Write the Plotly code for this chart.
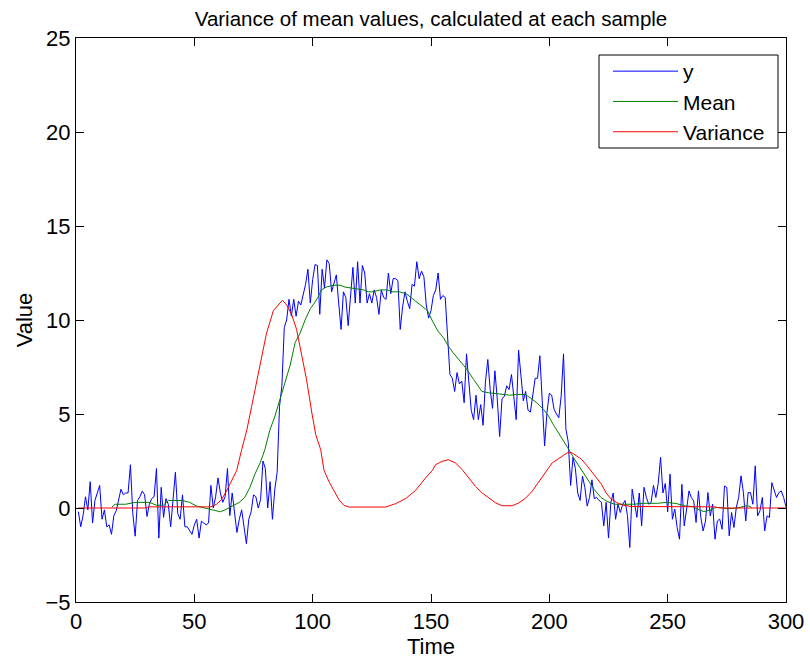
import plotly.graph_objects as go

# ---- data ----
y_values = [
    -0.2, -1.0, -0.4, 0.6, -0.1, 1.4, -0.8, 0.4, 0.8, 1.2,
    -0.6, -0.1, -1.0, -0.9, -1.4, -0.4, -0.15, 0.4, 1.0, 0.7,
    0.8, 0.8, 2.3, -0.3, -1.5, 0.4, 0.6, 0.9, 0.7, -0.45,
    0.2, 0.5, 0.6, 2.1, -1.6, 1.1, -0.5, 0.5, 0.2, -1.0,
    0.4, 1.9, -0.3, -0.6, 0.7, -1.0, -1.0, -1.2, -1.4, -0.9,
    -0.6, -1.6, -0.7, -0.8, -0.9, -0.8, 1.2, 0.0, 0.6, 1.6,
    0.8, 0.3, 0.6, 2.1, -0.4, 0.8, -0.2, -1.3, -0.6, -0.1,
    -1.0, -1.9, -0.6, -0.2, 0.7, 0.6, 0.0, 0.45, 2.5, 2.1,
    0.0, 1.4, -0.6, 1.0, 1.9, 5.4, 6.5, 9.6, 10.0, 11.1,
    10.2, 11.1, 10.2, 11.0, 10.8, 11.4, 11.9, 12.7, 10.9, 12.15,
    12.95, 12.9, 10.3, 12.7, 11.7, 13.2, 13.0, 11.5, 11.9, 12.4,
    10.9, 9.5, 11.5, 11.2, 9.7, 11.4, 12.8, 10.9, 13.1, 10.9,
    12.9, 12.5, 10.9, 11.4, 10.9, 11.6, 11.2, 10.3, 11.6, 11.2,
    11.1, 12.5, 11.4, 12.2, 12.2, 12.1, 9.5, 10.7, 11.5, 11.0,
    10.6, 11.9, 11.8, 13.1, 12.2, 12.6, 12.3, 10.8, 10.1, 10.5,
    11.3, 11.6, 12.5, 11.1, 11.3, 11.2, 8.8, 7.1, 6.9, 6.2,
    7.2, 6.6, 6.75, 5.6, 8.2, 6.8, 5.2, 4.7, 6.0, 4.7,
    5.5, 4.4, 6.7, 7.9, 6.3, 5.3, 7.3, 5.8, 3.8, 5.8,
    5.95, 6.5, 6.3, 7.1, 5.8, 4.7, 8.4, 7.2, 5.7, 6.2,
    5.2, 5.1, 5.95, 6.9, 6.9, 8.1, 5.7, 3.3, 5.1, 6.1,
    6.0, 5.25, 5.0, 4.8, 5.95, 8.2, 4.2, 3.5, 1.2, 2.7,
    2.1, 0.8, 0.4, 1.7, 1.1, 0.1, 0.56, 1.5, 0.5, 0.56,
    0.4, 0.3, -0.95, 0.3, -1.6, 0.3, 0.8, -0.6, 0.2, -0.24,
    0.2, 0.4, -0.4, -2.1, 1.0, 0.3, -0.5, 0.8, -0.95, 1.1,
    0.56, 0.2, 0.3, 1.2, 0.56, 1.3, 2.7, 0.8, 1.3, -0.2,
    1.8, -0.6, -0.06, -1.04, -1.66, 1.26, -0.95, -0.06, 0.91, 0.56,
    0.38, -0.77, 0.91, -0.5, -1.22, -0.69, 0.82, -0.42, 0.2, -1.66,
    -0.69, -0.59, -1.13, 1.17, 1.09, -1.48, -0.24, -1.04, 0.03, 0.56,
    1.71, 0.82, -0.69, 0.82, 0.82, 0.2, 2.24, -0.42, -0.15, 0.56,
    -1.22, -0.42, -0.5, 1.35, 1.0, 0.56, 0.82, 0.91, 0.56, 0.06,
]
y_time = list(range(1, len(y_values) + 1))

mean_time = [
    15.2, 16.5, 21, 25, 31, 34, 37, 39, 45, 48, 51, 54, 56, 59, 61, 63, 65, 67, 69,
    71.3, 73.5, 75.6, 77.8, 79.8, 81.8, 84.1, 86.2, 88.3, 90.5, 92.6, 94.7, 96.8,
    99, 100.7, 102.2, 103.7, 105.7, 108.7, 111.7, 113.7, 116.7, 121.5, 123.5,
    125.5, 128.5, 131.5, 133.5, 136.5, 139.5, 142.5, 145.5, 148.5, 150.4, 153,
    155.3, 157.4, 159.4, 162.3, 165, 168, 170, 171.5, 174.3, 177.2, 180.2, 183.3,
    186.2, 189.8, 191.9, 194.7, 197.6, 199.6, 202.1, 205, 207.8, 210.6, 213.4,
    216.2, 218.9, 221.8, 224.7, 227.6, 231.6, 235.7, 239.7, 245.6, 249.6, 253.5,
    257.5, 260.4, 263.3, 265.3, 268.2, 270.2, 272.3, 274.3, 277.3, 280.6, 282.7,
    284.2, 285.5,
]
mean_values = [
    0.05, 0.2, 0.2, 0.3, 0.3, 0.15, 0.15, 0.4, 0.4, 0.3, 0.1, 0.0, -0.05, -0.15,
    -0.2, -0.1, 0.03, 0.15, 0.3, 0.56, 1.1, 1.8, 2.4, 3.1, 4.1, 4.9, 5.8, 6.7,
    7.6, 8.8, 9.3, 10.0, 10.6, 10.9, 11.2, 11.6, 11.75, 11.85, 11.85, 11.75,
    11.7, 11.6, 11.5, 11.5, 11.6, 11.6, 11.5, 11.5, 11.4, 11.1, 10.8, 10.5,
    10.0, 9.4, 9.05, 8.6, 8.25, 7.8, 7.4, 6.84, 6.5, 6.2, 6.13, 6.1, 6.04, 6.0,
    6.04, 6.04, 5.86, 5.6, 5.24, 4.9, 4.35, 3.8, 3.2, 2.6, 2.06, 1.5, 1.0, 0.56,
    0.33, 0.2, 0.2, 0.2, 0.25, 0.25, 0.3, 0.24, 0.11, 0.08, -0.1, -0.19, -0.1,
    0.02, 0.03, -0.03, -0.03, 0.03, 0.11, 0.11, 0.03,
]

var_time = [
    1, 29, 31, 57, 59.4, 61.5, 63.6, 65.8, 67.9, 70.0, 72.1, 74.2, 76.3, 78.4,
    80.5, 83.4, 85.5, 87.2, 89.0, 91.1, 93.2, 95.3, 97.4, 99.6, 101.3, 103.4,
    104.8, 106.9, 109, 111.1, 113.2, 115.3, 130.8, 135, 139.3, 143.5, 147.7,
    150.6, 151.9, 154.7, 157.3, 160.4, 163.2, 166, 168.8, 171.6, 174.5, 177.3,
    180.1, 184.3, 187.1, 190, 192.8, 195.6, 198.4, 201.2, 205.4, 207.6, 209.5,
    211.3, 213.5, 215.6, 217.7, 219.8, 222, 224, 226.2, 228.3, 231.2, 234.7,
    270, 272, 300,
]
var_values = [
    0.0, 0.0, 0.06, 0.06, 0.2, 0.45, 0.9, 1.43, 2.0, 3.1, 4.1, 5.4, 6.7, 8.08,
    9.3, 10.5, 10.8, 11.05, 10.8, 10.3, 9.5, 8.25, 6.84, 5.1, 3.9, 3.1, 2.0,
    1.4, 0.89, 0.44, 0.14, 0.05, 0.05, 0.23, 0.5, 0.94, 1.6, 2.0, 2.3, 2.48,
    2.57, 2.39, 2.04, 1.6, 1.15, 0.8, 0.53, 0.27, 0.12, 0.12, 0.27, 0.53, 0.9,
    1.42, 1.95, 2.4, 2.75, 2.94, 2.94, 2.8, 2.6, 2.3, 1.97, 1.6, 1.27, 0.8,
    0.47, 0.3, 0.15, 0.08, 0.06, 0.0, 0.0,
]

x_ticks = [0, 50, 100, 150, 200, 250, 300]
y_ticks = [-5, 0, 5, 10, 15, 20, 25]

FONT = "Liberation Sans, Arial, Helvetica, sans-serif"

# plot-area geometry in pixels (used only for layout placement)
PL, PR, PT, PB = 76, 786, 38, 602
PW, PH = PR - PL, PB - PT


def px_to_paper_x(px):
    return (px - PL) / PW


def px_to_paper_y(py):
    return (PB - py) / PH


fig = go.Figure()
fig.add_trace(go.Scatter(x=y_time, y=y_values, mode="lines", name="y",
                         line=dict(color="#0000ff", width=1)))
fig.add_trace(go.Scatter(x=mean_time, y=mean_values, mode="lines", name="Mean",
                         line=dict(color="#008000", width=1)))
fig.add_trace(go.Scatter(x=var_time, y=var_values, mode="lines", name="Variance",
                         line=dict(color="#ff0000", width=1)))

axis_common = dict(
    showgrid=False, zeroline=False, showline=True, linecolor="black",
    linewidth=1, mirror="ticks", ticks="inside", ticklen=8, tickwidth=1,
    tickcolor="black", tickfont=dict(family=FONT, size=22, color="black"),
    automargin=False,
)

# legend frame (box) drawn as a layout rectangle
fig.add_shape(type="rect", xref="paper", yref="paper",
              x0=px_to_paper_x(599), x1=px_to_paper_x(778),
              y0=px_to_paper_y(148), y1=px_to_paper_y(55),
              line=dict(color="black", width=1), fillcolor="white",
              layer="above")

fig.update_layout(
    width=810, height=660, autosize=False,
    margin=dict(l=PL, r=810 - PR, t=PT, b=660 - PB, pad=0),
    paper_bgcolor="white", plot_bgcolor="white",
    font=dict(family=FONT, size=22, color="black"),
    title=dict(text="Variance of mean values, calculated at each sample",
               x=0.5, xref="paper", xanchor="center",
               y=1 - 19 / 660, yref="container", yanchor="middle",
               font=dict(family=FONT, size=20.5, color="black")),
    xaxis=dict(range=[0, 300], tickvals=x_ticks,
               title=dict(text="Time", standoff=0,
                          font=dict(family=FONT, size=22, color="black")),
               **axis_common),
    yaxis=dict(range=[-5, 25], tickvals=y_ticks,
               title=dict(text="Value", standoff=6,
                          font=dict(family=FONT, size=22, color="black")),
               **axis_common),
    legend=dict(x=px_to_paper_x(608), y=px_to_paper_y(51), xanchor="left",
                yanchor="top", bgcolor="rgba(0,0,0,0)",
                borderwidth=0, font=dict(family=FONT, size=21, color="black"),
                itemwidth=65, tracegroupgap=0),
    showlegend=True,
)

fig.write_html("out.html")
